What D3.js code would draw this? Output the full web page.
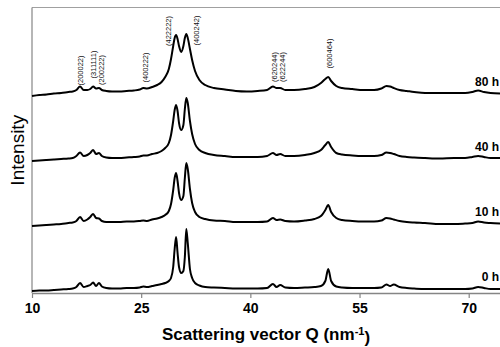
<!DOCTYPE html>
<html>
<head>
<meta charset="utf-8">
<script src="https://cdn.jsdelivr.net/npm/d3@7"></script>
<style>
  html, body { margin: 0; padding: 0; background: #fff; }
  svg { display: block; font-family: Arial, "Liberation Sans", sans-serif; }
</style>
</head>
<body>
<svg id="chart" width="500" height="347"></svg>
<script>
/* ── Data ─────────────────────────────────────────────────────────── */

// scattering vector Q (nm^-1), shared by all patterns
const qValues = [
  10, 11, 12, 13, 14, 15,
  15.6, 16.1, 16.6, 17.1, 17.6,
  18.0, 18.4, 18.8, 19.2, 19.6,
  20.2, 21, 22, 23, 24,
  24.8, 25.3, 25.8, 26.5, 27.2,
  27.8, 28.3, 28.8, 29.1, 29.4,
  29.6, 29.8, 30.0, 30.2, 30.5,
  30.8, 31.0, 31.2, 31.4, 31.7,
  32.0, 32.4, 33, 33.8, 35,
  36.5, 38, 39.5, 41, 42.3,
  43.1, 43.6, 44.1, 44.8, 46,
  47.5, 48.8, 49.7, 50.3, 50.7,
  51.1, 51.8, 52.6, 54, 55.5,
  57, 58, 58.7, 59.2, 59.7,
  60.5, 61.5, 62.5, 64, 66,
  68, 69.5, 70.5, 71.3, 72.1,
  73, 74.3
];

// intensity (arb. units) above each pattern's own baseline
const intensity0h = [
  0, 0.5, 0.5, 1, 1.5, 2,
  2.5, 4, 8, 4, 5,
  6, 8.5, 5, 8, 4.5,
  3, 2.5, 2.5, 3, 3,
  3.5, 4.5, 4, 5, 6,
  7, 8, 10, 13, 24,
  42, 54, 38, 24, 18,
  20, 34, 62, 48, 22,
  13, 8, 5.5, 4, 3.5,
  3, 2.5, 2.5, 2.5, 3,
  7, 4, 6, 3.5, 3,
  3.5, 4, 5, 10, 22,
  10, 4.5, 3.5, 3, 3,
  3, 3.5, 6.5, 5, 6.5,
  4, 3, 2.5, 2, 2,
  2, 2, 2.5, 4, 3,
  2, 2
];

const intensity10h = [
  0, 0.5, 1, 1.5, 2, 3,
  3.5, 5, 9, 5, 6.5,
  9, 12, 8, 7.5, 5,
  4, 4, 4, 4.5, 4.5,
  5, 5.5, 5, 6.5, 7.5,
  9, 11, 15, 22, 36,
  48, 53, 45, 33, 26,
  30, 48, 63, 57, 37,
  23, 14, 9, 7, 5.5,
  5, 4, 4, 4, 4.5,
  8, 6, 6.5, 5, 4.5,
  5.5, 7, 10, 16, 21,
  14, 8, 6, 5, 4.5,
  4.5, 5.5, 8, 7.5, 6.5,
  5, 4, 3.5, 3, 2,
  2, 2.5, 3, 4.5, 3.5,
  3, 2.5
];

const intensity40h = [
  0, 0.5, 1, 1.5, 2, 2.5,
  3, 5, 8.5, 5, 6,
  8, 11, 7, 8, 5,
  3.5, 3, 3, 3.5, 4,
  4.5, 5.5, 5.5, 7, 8,
  10, 13, 18, 26, 40,
  51, 56, 50, 38, 31,
  36, 52, 63, 58, 40,
  27, 17, 11, 8, 6,
  5, 4, 4, 4, 5,
  8, 6, 7, 5, 5,
  6, 8, 11, 16, 19,
  14, 8, 6.5, 5.5, 5,
  5, 6, 8.5, 8, 7,
  5, 4, 3.5, 3, 2.5,
  3, 3, 4, 5, 4,
  3, 3
];

const intensity80h = [
  0, 1, 1.5, 2.5, 3, 4,
  4.5, 6, 9.5, 6, 6,
  7, 9.5, 7.5, 8, 6,
  5, 4.5, 4.5, 5, 5.5,
  6.5, 8, 7.5, 9, 11,
  14, 19, 27, 37, 50,
  58, 61, 57, 50, 44,
  50, 58, 62, 58, 47,
  36, 25, 16, 11, 8,
  6.5, 5, 4.5, 5, 6,
  9.5, 8, 8, 6, 6,
  7, 9, 13, 17, 19,
  15, 10, 8, 7, 6,
  6, 7.5, 10, 9.5, 8,
  6, 5, 4, 3, 3,
  3, 3, 4, 5.5, 4,
  3, 2.5
];

const seriesNames = ['0 h', '10 h', '40 h', '80 h'];
const seriesOffsets = [2, 67, 132, 197];
const seriesValues = [intensity0h, intensity10h, intensity40h, intensity80h];

// reflection labels: name, Q position, intensity level of label centre
const hklNames = ['(200022)', '(311111)', '(200222)', '(400222)', '(422222)',
                  '(400242)', '(620244)', '(622244)', '(600464)'];
const hklQ     = [16.6, 18.5, 19.55, 25.6, 28.8, 32.6, 43.25, 44.35, 50.8];
const hklLevel = [222.5, 228.5, 223, 225.5, 262, 262.5, 226, 226, 239.5];

const xTicks = [10, 25, 40, 55, 70];

/* ── Layout ───────────────────────────────────────────────────────── */

const W = 500, H = 347;
const margin = { top: 7.5, right: 0, bottom: 54, left: 32 };

const svg = d3.select('#chart');

const x = d3.scaleLinear()
  .domain([10, 74.3])
  .range([margin.left, W - margin.right]);

const y = d3.scaleLinear()
  .domain([0, 285.5])
  .range([H - margin.bottom, margin.top]);

const axisColor = '#858585';

/* ── Frame ────────────────────────────────────────────────────────── */

svg.append('line')
  .attr('x1', margin.left).attr('x2', W)
  .attr('y1', margin.top).attr('y2', margin.top)
  .attr('stroke', '#a0a0a0').attr('stroke-width', 1.2);

svg.append('line')
  .attr('x1', margin.left).attr('x2', margin.left)
  .attr('y1', margin.top).attr('y2', H - margin.bottom)
  .attr('stroke', axisColor).attr('stroke-width', 1.2);

const xAxis = svg.append('g')
  .attr('transform', `translate(0,${H - margin.bottom})`)
  .call(d3.axisBottom(x).tickValues(xTicks).tickSize(5).tickSizeOuter(0).tickPadding(5));

xAxis.select('.domain').attr('stroke', axisColor).attr('stroke-width', 1.4);
xAxis.selectAll('.tick line').attr('stroke', axisColor).attr('stroke-width', 1.2);
xAxis.selectAll('.tick text')
  .attr('fill', '#000')
  .attr('font-size', '14px')
  .attr('font-weight', 'bold');

/* ── Patterns ─────────────────────────────────────────────────────── */

const plot = svg.append('g');

seriesValues.forEach((vals, k) => {
  const off = seriesOffsets[k];
  const line = d3.line()
    .x((d, i) => x(qValues[i]))
    .y(d => y(d + off))
    .curve(d3.curveMonotoneX);

  plot.append('path')
    .datum(vals)
    .attr('d', line)
    .attr('fill', 'none')
    .attr('stroke', '#000')
    .attr('stroke-width', 2)
    .attr('stroke-linejoin', 'round');

  plot.append('text')
    .attr('x', 499)
    .attr('y', y(off) - 10)
    .attr('text-anchor', 'end')
    .attr('font-size', '12px')
    .attr('font-weight', 'bold')
    .text(seriesNames[k]);
});

/* ── Reflection labels ────────────────────────────────────────────── */

hklNames.forEach((name, i) => {
  const cx = x(hklQ[i]);
  const cy = y(hklLevel[i]);
  svg.append('text')
    .attr('transform', `translate(${cx},${cy}) rotate(-90)`)
    .attr('text-anchor', 'middle')
    .attr('dy', '0.35em')
    .attr('font-size', '7.5px')
    .attr('fill', '#111')
    .text(name);
});

/* ── Axis titles ──────────────────────────────────────────────────── */

const xTitle = svg.append('text')
  .attr('x', (margin.left + W) / 2)
  .attr('y', 340)
  .attr('text-anchor', 'middle')
  .attr('font-size', '17px')
  .attr('font-weight', 'bold');
xTitle.append('tspan').text('Scattering vector Q (nm');
xTitle.append('tspan').attr('dy', '-0.45em').attr('font-size', '11px').text('-1');
xTitle.append('tspan').attr('dy', '0.45em').text(')');

svg.append('text')
  .attr('transform', `translate(24,${(margin.top + H - margin.bottom) / 2}) rotate(-90)`)
  .attr('text-anchor', 'middle')
  .attr('font-size', '19px')
  .text('Intensity');
</script>
</body>
</html>
